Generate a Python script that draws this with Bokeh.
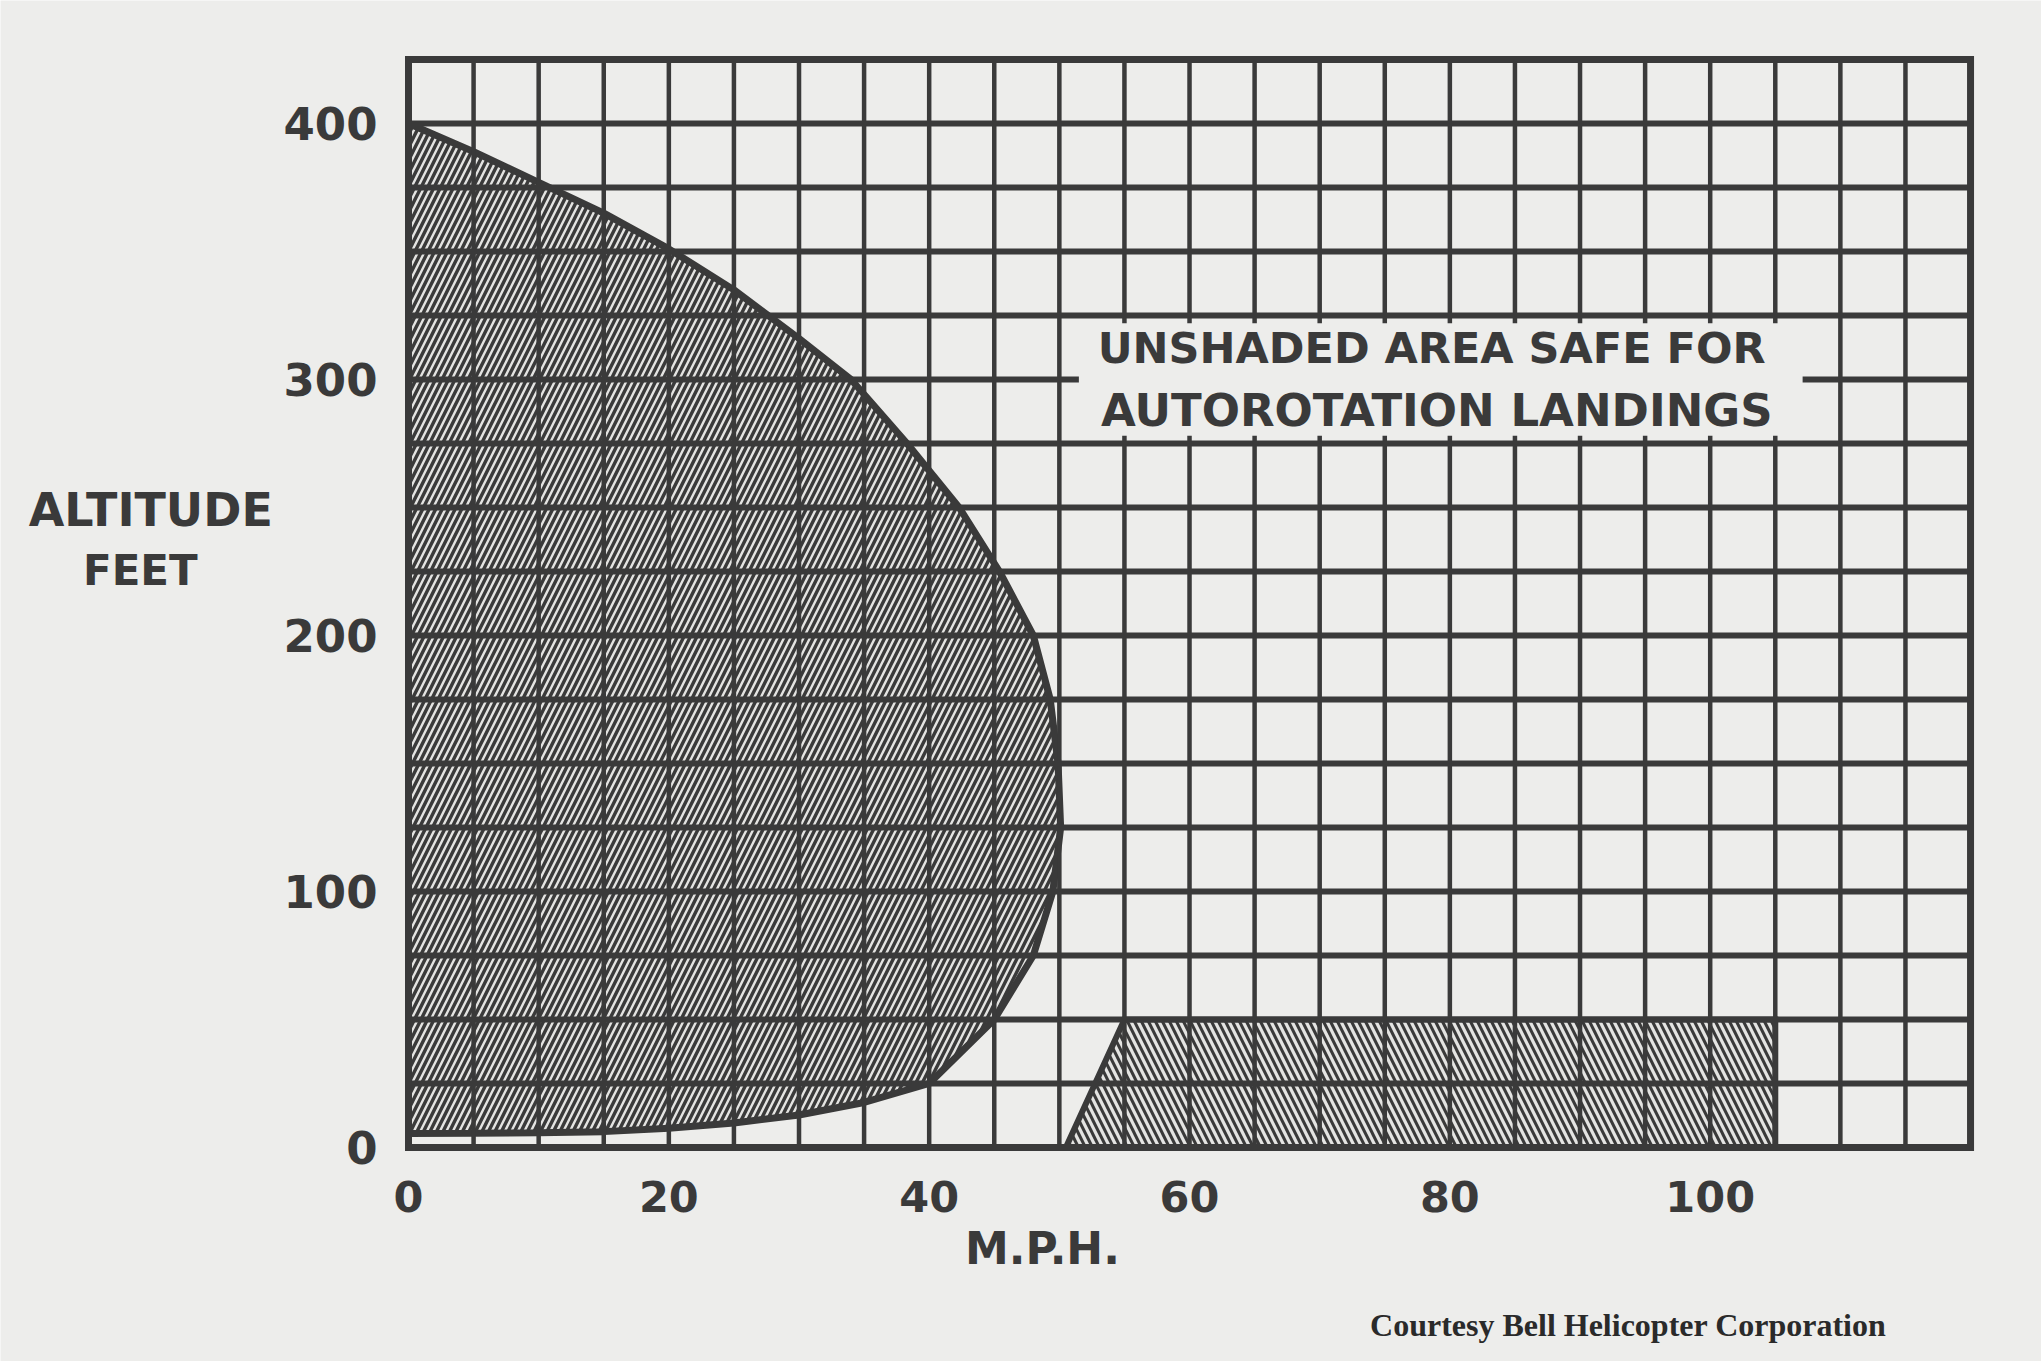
from bokeh.plotting import figure
from bokeh.models import FixedTicker, Label, BoxAnnotation, Range1d
from bokeh.embed import file_html
from bokeh.resources import INLINE

# ---- data (height-velocity diagram) ----
# "avoid" region (upper-left shaded curve): airspeed (mph) vs altitude (ft)
avoid_mph = [0, 5, 10, 15, 20, 25, 30, 34, 38.3, 42.3, 45.4, 48, 49.3, 49.9, 50.1,
             49.5, 48, 45, 40, 35, 30, 25, 20, 15, 10, 5, 0]
avoid_ft = [400, 389, 377, 365, 351, 335, 316, 300, 275, 250, 225, 200, 175, 150, 125,
            100, 75, 50, 25, 17.6, 12.7, 9.6, 7.5, 6.2, 5.8, 5.6, 5.5]

# low-altitude high-speed shaded region
low_mph = [50.5, 55, 105, 105]
low_ft = [0, 50, 50, 0]

# axes
x_tick_labels = [0, 20, 40, 60, 80, 100]
y_tick_labels = [0, 100, 200, 300, 400]
x_grid = list(range(5, 120, 5))      # interior vertical grid lines (mph)
y_grid = list(range(25, 425, 25))    # interior horizontal grid lines (ft)
x_max = 120
y_max = 425

note_lines = ["UNSHADED AREA SAFE FOR", "AUTOROTATION LANDINGS"]
y_title = ["ALTITUDE", "FEET"]
x_title = "M.P.H."
credit = "Courtesy Bell Helicopter Corporation"

# ---- styling / layout ----
PAPER = "#ededeb"
INK = "#3a3a3a"
HATCH = "#e4e4e2"
FONT = "DejaVu Sans"
W, H = 2041, 1361
PX_PER_MPH = 13.017
PX_PER_FT = 2.56
X0_PX = 408        # canvas x of 0 mph
Y0_PX = 1147       # canvas y of 0 ft

xr = Range1d(-X0_PX / PX_PER_MPH, (W - X0_PX) / PX_PER_MPH)
yr = Range1d(-(H - Y0_PX) / PX_PER_FT, Y0_PX / PX_PER_FT)

p = figure(width=W, height=H, x_range=xr, y_range=yr,
           output_backend="svg", toolbar_location=None,
           min_border_left=0, min_border_right=0,
           min_border_top=0, min_border_bottom=0)
p.background_fill_color = PAPER
p.border_fill_color = PAPER
p.outline_line_color = None
p.xgrid.visible = False
p.ygrid.visible = False

# shaded regions
p.patch(avoid_mph, avoid_ft, fill_color=INK, line_color=INK, line_width=7,
        hatch_pattern="/", hatch_color=HATCH, hatch_scale=13, hatch_weight=2.4)
p.patch(low_mph, low_ft, fill_color=INK, line_color=INK, line_width=6,
        line_join="miter",
        hatch_pattern="\\", hatch_color=HATCH, hatch_scale=14, hatch_weight=3.2)

# grid lines drawn over the shading
p.segment(x0=x_grid, x1=x_grid, y0=[0] * len(x_grid), y1=[y_max] * len(x_grid),
          line_color=INK, line_width=4.5)
p.segment(x0=[0] * len(y_grid), x1=[x_max] * len(y_grid), y0=y_grid, y1=y_grid,
          line_color=INK, line_width=6)
# chart border
p.quad(left=[0], right=[x_max], bottom=[0], top=[y_max], fill_color=None,
       line_color=INK, line_width=7, line_join="miter")

# axes drawn at the chart edges: labels only
p.xaxis.fixed_location = 0
p.yaxis.fixed_location = 0
for ax, ticks, size in ((p.xaxis, x_tick_labels, "43px"), (p.yaxis, y_tick_labels, "45px")):
    ax.ticker = FixedTicker(ticks=ticks)
    ax.axis_line_color = None
    ax.major_tick_line_color = None
    ax.minor_tick_line_color = None
    ax.major_tick_out = 0
    ax.major_tick_in = 0
    ax.major_label_text_font = FONT
    ax.major_label_text_font_style = "bold"
    ax.major_label_text_font_size = size
    ax.major_label_text_color = INK
p.xaxis.major_label_standoff = 33
p.yaxis.major_label_standoff = 31

# label box hiding the grid
p.add_layout(BoxAnnotation(left=51.5, right=107.1, bottom=278, top=322,
                           fill_color=PAPER, fill_alpha=1, line_color=None))

def add_text(txt, x, y, size, font=FONT, style="bold", color=INK):
    p.add_layout(Label(x=x, y=y, text=txt, text_font=font, text_font_style=style,
                       text_font_size=size, text_color=color,
                       text_align="center", text_baseline="middle"))

add_text(note_lines[0], 78.6, 312.5, "43px")
add_text(note_lines[1], 79.0, 288.0, "45px")
add_text(y_title[0], -19.8, 249.2, "46px")
add_text(y_title[1], -20.6, 225.4, "42px")
add_text(x_title, 48.7, -39.5, "44px")
add_text(credit, 93.7, -69.5, "32px", font="Liberation Serif", color="#2a2a2a")

open("out.html", "w").write(file_html(p, INLINE))
